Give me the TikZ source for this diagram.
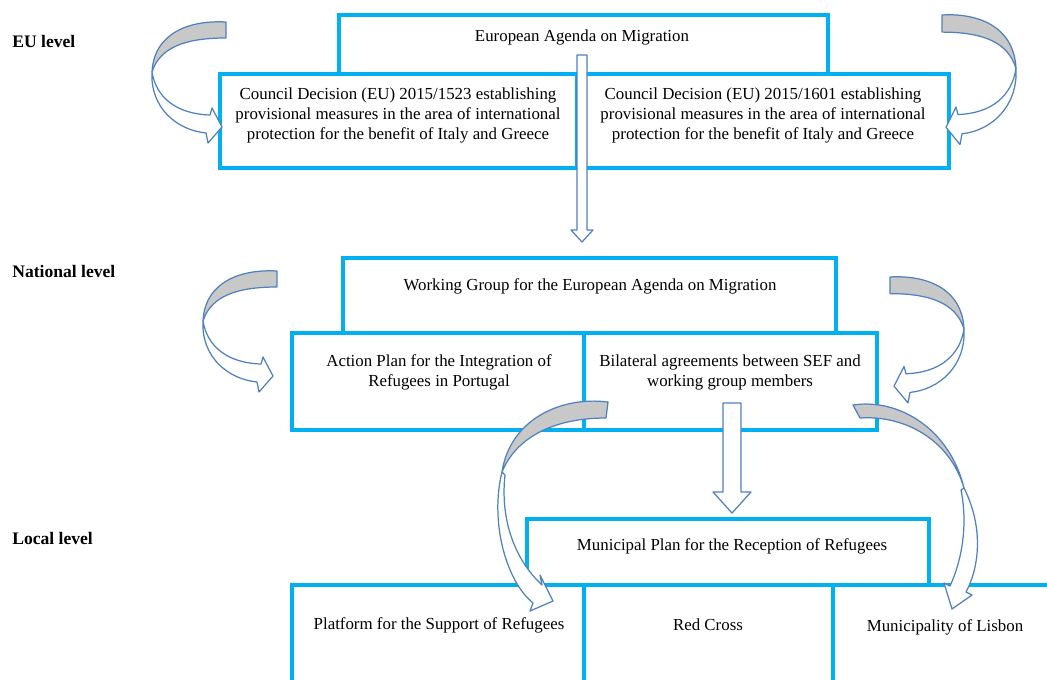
\documentclass[tikz,border=0pt]{standalone}
\usepackage{fontspec}
\setmainfont{Liberation Serif}
\usetikzlibrary{positioning}
\usetikzlibrary{calc}

\definecolor{boxblue}{RGB}{0,176,240}
\definecolor{arrowblue}{RGB}{79,129,189}
\definecolor{backgray}{RGB}{200,200,200}

\tikzset{
  box/.style={rectangle, draw=boxblue, line width=2.3pt, fill=white, inner sep=0pt, outer sep=0pt, anchor=north west},
  txt/.style={font=\fontsize{9.6}{11.4}\selectfont, align=center, inner sep=0pt},
  level/.style={font=\fontsize{10}{12}\selectfont\bfseries, anchor=west, inner sep=0pt},
  backside/.style={draw=arrowblue, fill=backgray, line width=0.7pt, line join=round},
  frontside/.style={draw=arrowblue, fill=white, line width=0.7pt, line join=round},
  pics/turnarrow/.style={code={
    \draw[backside] (0,0) .. controls (-35,-2) and (-72,10) .. (-74,50)
        .. controls (-66,25) and (-40,16) .. (0,16) -- cycle;
    \draw[frontside] (-74,50) .. controls (-76,85) and (-50,108) .. (-20,111)
        -- (-18,121) -- (-4,105) -- (-14,86) -- (-16,93)
        .. controls (-50,92) and (-70,75) .. (-74,50) -- cycle;
  }}
}

\begin{document}
\begin{tikzpicture}[x=0.02cm, y=-0.02cm]
    \useasboundingbox (0,0) rectangle (1047,679);
    \fill[white] (0,0) rectangle (1047,679);
    \clip (0,0) rectangle (1047,679);

    % EU level boxes
    \node[box, minimum width=489*0.02cm, minimum height=59*0.02cm] (agenda) at (339,15) {};
    \node[box, minimum width=357*0.02cm, minimum height=94*0.02cm] (dec1523) at (220,74) {};
    \node[box, minimum width=372*0.02cm, minimum height=94*0.02cm] (dec1601) at (577,74) {};

    % national level boxes
    \node[box, minimum width=493*0.02cm, minimum height=75*0.02cm] (wgroup) at (343,258) {};
    \node[box, minimum width=292*0.02cm, minimum height=97*0.02cm] (aplan) at (292,333) {};
    \node[box, minimum width=293*0.02cm, minimum height=97*0.02cm] (bilat) at (584,333) {};

    % local level boxes
    \node[box, minimum width=402*0.02cm, minimum height=66*0.02cm] (munplan) at (527,519) {};
    \node[box, minimum width=292*0.02cm, minimum height=120*0.02cm] (platform) at (292,585) {};
    \node[box, minimum width=249*0.02cm, minimum height=120*0.02cm] (redcross) at (584,585) {};
    \node[box, minimum width=240*0.02cm, minimum height=120*0.02cm] (lisbon) at (833,585) {};

    % the texts
    \node[txt] (agendatxt) at (582,37) {European Agenda on Migration};
    \node[txt] (dec1523txt) at (398,115) {Council Decision (EU) 2015/1523 establishing\\provisional measures in the area of international\\protection for the benefit of Italy and Greece};
    \node[txt] (dec1601txt) at (763,115) {Council Decision (EU) 2015/1601 establishing\\provisional measures in the area of international\\protection for the benefit of Italy and Greece};
    \node[txt] (wgrouptxt) at (590,286) {Working Group for the European Agenda on Migration};
    \node[txt] (aplantxt) at (439,372) {Action Plan for the Integration of\\Refugees in Portugal};
    \node[txt] (bilattxt) at (730,372) {Bilateral agreements between SEF and\\working group members};
    \node[txt] (munplantxt) at (732,546) {Municipal Plan for the Reception of Refugees};
    \node[txt] (platformtxt) at (439,625) {Platform for the Support of Refugees};
    \node[txt] (redcrosstxt) at (708,625) {Red Cross};
    \node[txt] (lisbontxt) at (945,627) {Municipality of Lisbon};

    \node[level] (eulevel) at (12,41) {EU level};
    \node[level] (natlevel) at (12,271) {National level};
    \node[level] (loclevel) at (12,538) {Local level};

    % the straight block arrows
    \coordinate (a1top) at (582,55);
    \coordinate (a1tip) at (582,242);
    \draw[frontside] ($(a1top)+(-5,0)$) -- ($(a1tip)+(-5,-12)$) -- ($(a1tip)+(-11,-12)$) -- (a1tip)
        -- ($(a1tip)+(11,-12)$) -- ($(a1tip)+(5,-12)$) -- ($(a1top)+(5,0)$) -- cycle;
    \coordinate (a2top) at (732,403);
    \coordinate (a2tip) at (732,513);
    \draw[frontside] ($(a2top)+(-9,0)$) -- ($(a2tip)+(-9,-21)$) -- ($(a2tip)+(-19,-21)$) -- (a2tip)
        -- ($(a2tip)+(19,-21)$) -- ($(a2tip)+(9,-21)$) -- ($(a2top)+(9,0)$) -- cycle;

    % the small turning arrows
    \pic (eulturn) at (226,22) {turnarrow};
    \pic[xscale=-1, yscale=1.07] (eurturn) at (942,15) {turnarrow};
    \pic (natlturn) at (277,271) {turnarrow};
    \pic[xscale=-1, yscale=1.04] (natrturn) at (890,277) {turnarrow};

    % the long arrows down to the local level
    \draw[backside] (608,402) .. controls (560,396) and (510,420) .. (502,472)
        .. controls (515,440) and (550,418) .. (606,418) -- cycle;
    \draw[frontside] (502,472) .. controls (490,520) and (505,580) .. (533,603)
        -- (530,611) -- (553,601) -- (540,575) -- (542,585)
        .. controls (515,560) and (500,520) .. (505,475) -- cycle;
    \draw[backside] (853,405) .. controls (900,398) and (950,430) .. (964,488)
        .. controls (950,440) and (905,415) .. (860,418) -- cycle;
    \draw[frontside] (964,488) .. controls (985,530) and (978,570) .. (966,592)
        -- (972,595) -- (952,609) -- (944,583) -- (950,586)
        .. controls (962,560) and (968,525) .. (961,490) -- cycle;
\end{tikzpicture}
\end{document}
